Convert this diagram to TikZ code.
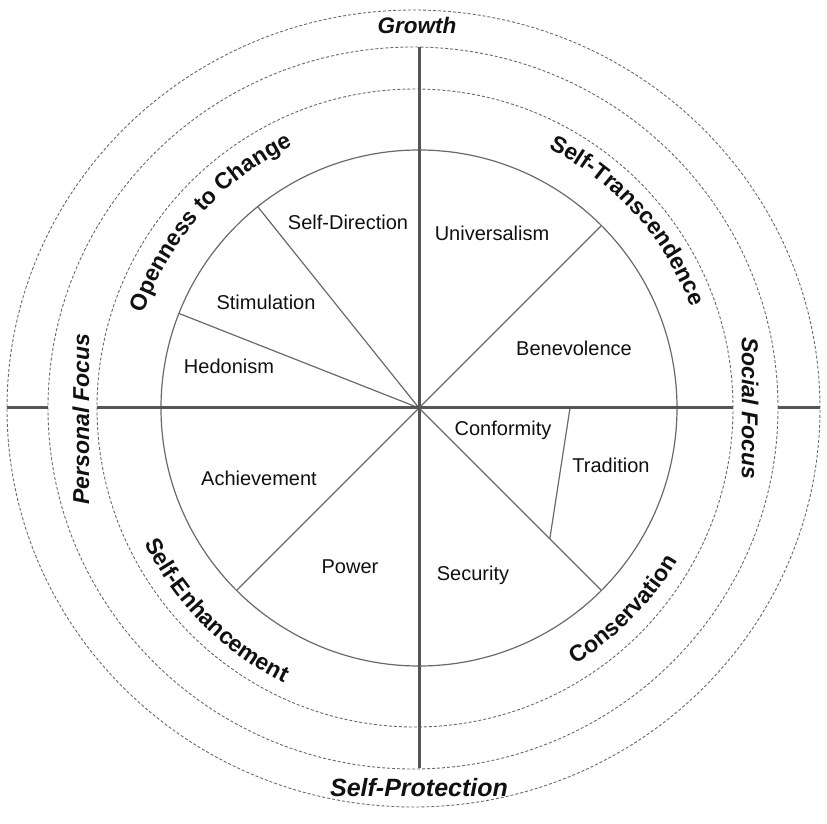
\documentclass[tikz,border=0pt]{standalone}
\usepackage{fontspec}
\setmainfont{Liberation Sans}
\usetikzlibrary{decorations.text}
\definecolor{thickgray}{HTML}{555555}
\definecolor{thingray}{HTML}{6A6A6A}
\definecolor{ink}{HTML}{111111}
\newcommand\cvfont{\fontsize{23}{23}\selectfont\bfseries\color{ink}}
\begin{document}
\begin{tikzpicture}[x=1pt,y=1pt,
  thickline/.style={draw=thickgray, line width=3pt},
  spoke/.style={draw=thingray, line width=1.2pt},
  ring/.style={draw=thingray, line width=0.9pt, dash pattern=on 3pt off 2pt},
  value/.style={font=\fontsize{20}{24}\selectfont, text=ink, inner sep=0pt},
  axislabel/.style={font=\fontsize{23}{26}\selectfont\bfseries\itshape, text=ink, inner sep=0pt},
  curved/.style={decorate, decoration={text along path, text align=center, text={#1}}}
]
\useasboundingbox (-419,-416) rectangle (408,408);
\fill[white] (-419,-416) rectangle (408,408);
\coordinate (O) at (0,0);

% dashed rings
\draw[ring] (-5.5,-0.5) ellipse [x radius=406.5pt, y radius=398.5pt];
\draw[ring] (-6,0) ellipse [x radius=365pt, y radius=361pt];
\draw[ring] (-4,0) ellipse [x radius=318pt, y radius=319pt];

% inner circle and spokes
\draw[spoke] (O) circle [radius=258pt];
\coordinate (sd) at (128.7:258pt);
\coordinate (st) at (158.5:258pt);
\coordinate (ub) at (45:258pt);
\coordinate (pw) at (225:258pt);
\coordinate (sc) at (315:258pt);
\coordinate (trA) at (151,0);
\coordinate (trB) at (315:185pt);
\draw[spoke] (O) -- (sd);
\draw[spoke] (O) -- (st);
\draw[spoke] (O) -- (ub);
\draw[spoke] (O) -- (pw);
\draw[spoke] (O) -- (sc);
\draw[spoke] (trA) -- (trB);

% main axes
\coordinate (vt) at (0,361);
\coordinate (vb) at (0,-360);
\draw[thickline] (vt) -- (vb);
\coordinate (hl1) at (-412,0); \coordinate (hl2) at (-371,0);
\coordinate (hm1) at (-322,0); \coordinate (hm2) at (314,0);
\coordinate (hr1) at (359,0);  \coordinate (hr2) at (401,0);
\draw[thickline] (hl1) -- (hl2);
\draw[thickline] (hm1) -- (hm2);
\draw[thickline] (hr1) -- (hr2);

% value labels
\node[value] (selfdir) at (-71,186) {Self-Direction};
\node[value] (univ) at (73,175) {Universalism};
\node[value] (stim) at (-153,106) {Stimulation};
\node[value] (hedo) at (-190,42) {Hedonism};
\node[value] (bene) at (155,60) {Benevolence};
\node[value] (conf) at (84,-22) {Conformity};
\node[value] (trad) at (192,-57) {Tradition};
\node[value] (achi) at (-160,-70) {Achievement};
\node[value] (powr) at (-69,-159) {Power};
\node[value] (secu) at (54,-167) {Security};

% outer axis labels
\node[font=\fontsize{22.5}{26}\selectfont\bfseries\itshape, text=ink, inner sep=0pt] (growth) at (-2,382.5) {Growth};
\node[font=\fontsize{25}{28}\selectfont\bfseries\itshape, text=ink, inner sep=0pt] (protect) at (0,-379.5) {Self-Protection};
\node[axislabel, rotate=90] (personal) at (-338,-11) {Personal Focus};
\node[axislabel, rotate=-90] (social) at (331,0) {Social Focus};

% curved higher-order labels
\path[curved={|\cvfont|Openness to Change}] (178.4:291pt) arc[start angle=178.4, end angle=98.4, radius=291pt];
\path[curved={|\cvfont|Self-Transcendence}] (81.9:290pt) arc[start angle=81.9, end angle=1.9, radius=290pt];
\path[curved={|\cvfont|Conservation}] (-84.6:300pt) arc[start angle=-84.6, end angle=-4.6, radius=300pt];
\path[curved={|\cvfont|Self-Enhancement}] (185:306pt) arc[start angle=185, end angle=265, radius=306pt];
\end{tikzpicture}
\end{document}
